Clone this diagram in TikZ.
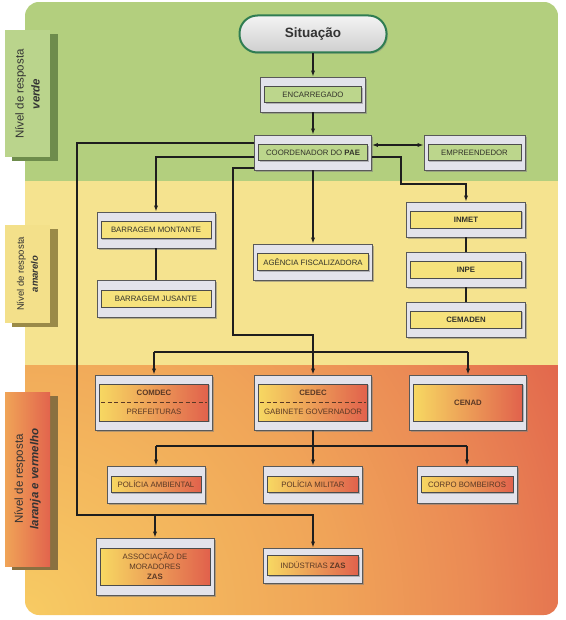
\documentclass[tikz,border=0pt]{standalone}
\usepackage{fontspec}
\setmainfont{Liberation Sans}
\usetikzlibrary{arrows.meta,shadows}

% band and box colours
\definecolor{bandGreen}{HTML}{B3CF7E}
\definecolor{bandYellow}{HTML}{F5E38F}
\definecolor{glowA}{HTML}{F7CB63}
\definecolor{glowB}{HTML}{F0A458}
\definecolor{glowC}{HTML}{EB8B55}
\definecolor{glowD}{HTML}{E0604B}
\definecolor{tabGreen}{HTML}{BAD48C}
\definecolor{tabGreenDark}{HTML}{6E8C4C}
\definecolor{tabYellow}{HTML}{F3E08A}
\definecolor{tabYellowDark}{HTML}{9A8A48}
\definecolor{tabWarmL}{HTML}{F0A457}
\definecolor{tabWarmR}{HTML}{E2644D}
\definecolor{tabWarmDark}{HTML}{8A7040}
\definecolor{boxGray}{HTML}{E3E3EB}
\definecolor{innerGreen}{HTML}{BCD68C}
\definecolor{innerYellow}{HTML}{F6E27C}
\definecolor{innerWarmL}{HTML}{F7D862}
\definecolor{innerWarmR}{HTML}{E1614C}
\definecolor{ink}{HTML}{1E1E1E}
\definecolor{labelInk}{HTML}{33332A}
\definecolor{warmInk}{HTML}{5A3825}
\definecolor{sitGreen}{HTML}{2F7D52}
\definecolor{sitTop}{HTML}{F4F4F4}
\definecolor{sitBottom}{HTML}{CFCFCF}

% warm background of the lowest band, glowing from the lower left corner
\pgfdeclareradialshading{warmglow}{\pgfpoint{0bp}{0bp}}{%
  color(0bp)=(glowA); color(14.5bp)=(glowB); color(21bp)=(glowC);
  color(29bp)=(glowD); color(50bp)=(glowD)}

% an organisation box: grey frame with a coloured label strip inside
% #1 name, #2 x, #3 y, #4 width, #5 height, #6 strip height, #7 strip style, #8 text
\newcommand\orgbox[8]{%
  \node[outerbox, minimum width=#4pt, minimum height=#5pt] (#1) at (#2,#3) {};
  \node[#7, minimum width=#4pt-8pt, minimum height=#6pt] (#1-in) at (#1.center) {#8};
}

\begin{document}
\begin{tikzpicture}[x=1pt,y=-1pt,
  outerbox/.style={draw=black!65, line width=0.8pt, fill=boxGray, inner sep=0pt,
    drop shadow={shadow xshift=1.8pt, shadow yshift=-1.8pt, opacity=0.55}},
  innerbox/.style={draw=black!70, line width=0.6pt, inner sep=0pt, align=center,
    font=\fontsize{7.8}{10}\selectfont, text=labelInk,
    drop shadow={shadow xshift=1.2pt, shadow yshift=-1.2pt, opacity=0.5}},
  greenin/.style={innerbox, fill=innerGreen},
  yellowin/.style={innerbox, fill=innerYellow},
  warmin/.style={innerbox, left color=innerWarmL, right color=innerWarmR, text=warmInk},
  link/.style={draw=ink, line width=1.2pt},
  arr/.style={link, -{Latex[length=6pt,width=4.2pt]}},
  biarr/.style={link, {Latex[length=6pt,width=4.2pt]}-{Latex[length=6pt,width=4.2pt]}},
  sitbox/.style={draw=sitGreen, line width=2pt, rounded corners=18pt,
    top color=sitTop, bottom color=sitBottom, minimum width=147pt, minimum height=37pt,
    font=\fontsize{13.5}{15}\selectfont\bfseries, text=black!80,
    drop shadow={shadow xshift=1.5pt, shadow yshift=-1.5pt, opacity=0.35}},
  tabtext/.style={rotate=90, align=center, text=black!80}
]
\useasboundingbox (0,0) rectangle (565,620);

% ---------- background bands ----------
\begin{scope}
  \clip[rounded corners=14pt] (25,2) rectangle (558,615);
  \fill[bandGreen] (25,2) rectangle (558,181);
  \fill[bandYellow] (25,181) rectangle (558,365);
  \begin{scope}
    \clip (25,365) rectangle (558,615);
    \shade[shading=warmglow] (-508,82) rectangle (558,1148);
  \end{scope}
\end{scope}

% ---------- level tabs ----------
\fill[tabGreenDark] (12,34) rectangle (58,161);
\fill[tabGreen] (5,30) rectangle (50,157);
\node[tabtext, font=\fontsize{11.5}{16}\selectfont] (tab-green) at (27.5,94)
  {Nível de resposta\\\textbf{\textit{verde}}};

\fill[tabYellowDark] (12,229) rectangle (58,327);
\fill[tabYellow] (5,225) rectangle (50,323);
\node[tabtext, font=\fontsize{9.5}{14}\selectfont] (tab-yellow) at (27.5,274)
  {Nível de resposta\\\textbf{\textit{amarelo}}};

\fill[tabWarmDark] (12,396) rectangle (58,570);
\shade[left color=tabWarmL, right color=tabWarmR] (5,392) rectangle (50,566);
\node[tabtext, font=\fontsize{11.5}{15.5}\selectfont] (tab-warm) at (27.5,479)
  {Nível de resposta\\\textbf{\textit{laranja e vermelho}}};

% ---------- boxes ----------
\node[sitbox] (sit) at (313,34) {Situação};

\orgbox{enc}{313}{94.5}{105}{35}{16}{greenin}{ENCARREGADO}
\orgbox{coord}{313}{152.5}{117}{35}{16}{greenin}{COORDENADOR DO \textbf{PAE}}
\orgbox{emp}{474.5}{152.5}{101}{35}{16}{greenin}{EMPREENDEDOR}

\orgbox{bm}{156}{230}{118}{36}{17}{yellowin}{BARRAGEM MONTANTE}
\orgbox{bj}{156}{298.5}{118}{37}{17}{yellowin}{BARRAGEM JUSANTE}
\orgbox{ag}{313}{262}{119}{36}{17}{yellowin}{AGÊNCIA FISCALIZADORA}
\orgbox{inmet}{466}{219.5}{119}{35}{17}{yellowin}{\textbf{INMET}}
\orgbox{inpe}{466}{269.5}{119}{35}{17}{yellowin}{\textbf{INPE}}
\orgbox{cem}{466}{319.5}{119}{35}{17}{yellowin}{\textbf{CEMADEN}}

\orgbox{comdec}{154}{402.5}{117}{55}{37}{warmin}{\textbf{COMDEC}\\[9pt]PREFEITURAS}
\orgbox{cedec}{313}{402.5}{117}{55}{37}{warmin}{\textbf{CEDEC}\\[9pt]GABINETE GOVERNADOR}
\orgbox{cenad}{468}{402.5}{117}{55}{37}{warmin}{\textbf{CENAD}}
\draw[warmInk, line width=0.8pt, dash pattern=on 4pt off 2.5pt]
  ([xshift=2pt]comdec-in.west) -- ([xshift=-2pt]comdec-in.east);
\draw[warmInk, line width=0.8pt, dash pattern=on 4pt off 2.5pt]
  ([xshift=2pt]cedec-in.west) -- ([xshift=-2pt]cedec-in.east);

\orgbox{pa}{156}{484.5}{98}{37}{16}{warmin}{POLÍCIA AMBIENTAL}
\orgbox{pm}{313}{484.5}{99}{37}{16}{warmin}{POLÍCIA MILITAR}
\orgbox{cb}{467}{484.5}{100}{37}{16}{warmin}{CORPO BOMBEIROS}

\orgbox{assoc}{155}{566.5}{118}{57}{37}{warmin}{ASSOCIAÇÃO DE\\MORADORES\\\textbf{ZAS}}
\orgbox{ind}{313}{565.5}{99}{35}{20}{warmin}{INDÚSTRIAS \textbf{ZAS}}

% ---------- connectors ----------
\coordinate (metBend) at (401,184);
\coordinate (civBend) at (233,335);
\coordinate (civBus) at (300,352);
\coordinate (polBus) at (313,446);
\coordinate (zasBus) at (77,515);

\draw[arr] (sit) -- (enc);
\draw[arr] (enc) -- (coord);
\draw[biarr] ([yshift=7.5pt]coord.east) -- ([yshift=7.5pt]emp.west);
\draw[arr] ([yshift=-4.5pt]coord.east) -| (metBend) -| (inmet.north);
\draw[link] (inmet) -- (inpe);
\draw[link] (inpe) -- (cem);

\draw[arr] ([yshift=-4.5pt]coord.west) -| (bm.north);
\draw[link] (bm) -- (bj);
\draw[arr] (coord) -- (ag);

\draw[arr] ([yshift=-15.5pt]coord.west) -| (civBend) -| (cedec.north);
\draw[link] (civBus -| comdec.north) -- (civBus -| cenad.north);
\draw[arr] (civBus -| comdec.north) -- (comdec.north);
\draw[arr] (civBus -| cenad.north) -- (cenad.north);

\draw[link] (cedec.south) -- (polBus);
\draw[link] (polBus -| pa.north) -- (polBus -| cb.north);
\draw[arr] (polBus -| pa.north) -- (pa.north);
\draw[arr] (polBus) -- (pm.north);
\draw[arr] (polBus -| cb.north) -- (cb.north);

\draw[arr] ([yshift=9.5pt]coord.west) -| (zasBus) -- (zasBus -| ind.north) -- (ind.north);
\draw[arr] (zasBus -| assoc.north) -- (assoc.north);
\end{tikzpicture}
\end{document}
